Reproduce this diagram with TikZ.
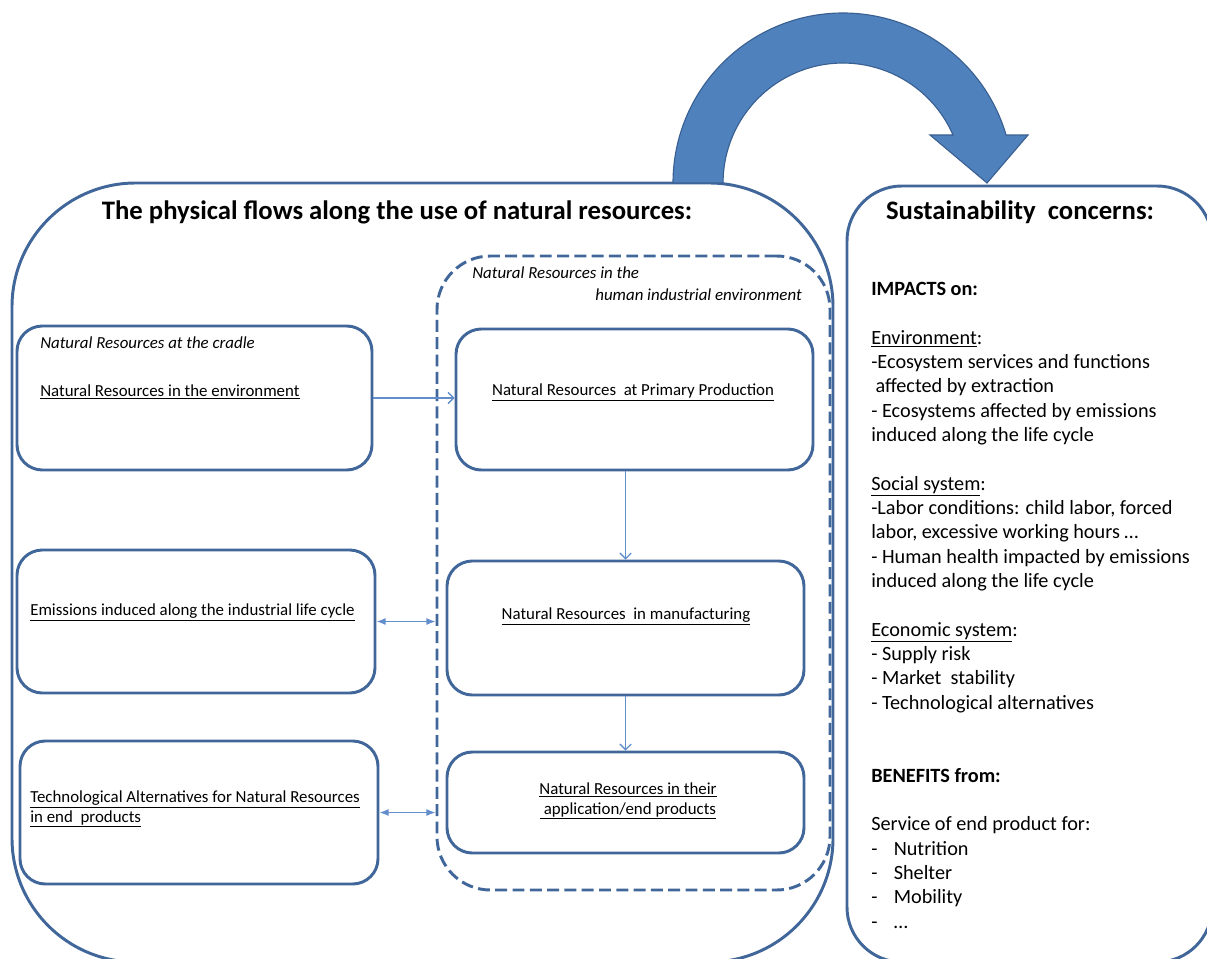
\documentclass[tikz,border=0pt]{standalone}
\usepackage{fontspec}
\setmainfont{Carlito}
\usetikzlibrary{arrows.meta, positioning, fit, calc}
\definecolor{frameBlue}{RGB}{65,103,154}
\definecolor{arrowBlue}{RGB}{79,129,189}
\definecolor{arrowEdge}{RGB}{58,96,146}
\definecolor{linkBlue}{RGB}{98,142,204}
\tikzset{
    x=0.025cm, y=0.025cm,
    % Shapes
    box/.style={rectangle, draw=frameBlue, line width=2.1pt, rounded corners=18pt, inner sep=0pt},
    bigbox/.style={box, rounded corners=88pt},
    sidebox/.style={box, rounded corners=39pt},
    zonebox/.style={box, dashed, dash pattern=on 8.5pt off 3.8pt, rounded corners=38pt},
    % Texts
    title/.style={font=\fontsize{19}{23}\selectfont\bfseries, inner sep=0pt},
    lbl/.style={font=\fontsize{12}{14.2}\selectfont, inner sep=0pt, align=center},
    tag/.style={lbl, font=\fontsize{12}{14.2}\selectfont\itshape},
    notes/.style={font=\fontsize{14.4}{17.3}\selectfont, inner sep=0pt, align=left},
    % Flow
    flow/.style={line width=0.9pt, linkBlue, -{Straight Barb[length=4pt,width=8pt]}},
    link/.style={line width=0.9pt, linkBlue, {Latex[length=6.5pt,width=5pt]}-{Latex[length=6.5pt,width=5pt]}},
    bigArrow/.style={fill=arrowBlue, draw=arrowEdge, line width=0.8pt}
}

\begin{document}
\begin{tikzpicture}

\useasboundingbox (0,0) rectangle (1207,-958);
\clip (0,0) rectangle (1207,-958);

% frames
\node[bigbox, fit={(12,-183) (833,-962)}] (flows) {};
\node[sidebox, fit={(847,-186) (1212,-962)}] (concerns) {};
\node[zonebox, fit={(437,-256) (830,-890)}] (industry) {};

% boxes
\node[box, fit={(17,-326) (372,-470)}] (cradle) {};
\node[box, fit={(456,-329) (813,-470)}] (primary) {};
\node[box, fit={(17,-550) (375,-693)}] (emissions) {};
\node[box, fit={(447,-561) (804,-695)}] (manufact) {};
\node[box, fit={(20,-741) (378,-884)}] (techalt) {};
\node[box, fit={(447,-752) (804,-853)}] (endprod) {};

% curved arrow
\draw[bigArrow] (673,-183) arc[start angle=180, end angle=16.4, radius=170]
    -- (1028,-135) -- (987,-183) -- (930,-135) -- (953,-135)
    arc[start angle=23.6, end angle=180, radius=120] -- cycle;

% texts
\node[title] (flowsTitle) at (397,-212) {The physical flows along the use of natural resources:};
\node[title] (concernsTitle) at (1020,-212) {Sustainability~ concerns:};
\node[tag, anchor=west] (industryTag) at (472,-273) {Natural Resources in the};
\node[tag, anchor=east] (industryTag2) at (802,-295) {human industrial environment};
\node[tag, anchor=west] (cradleTag) at (40,-343) {Natural Resources at the cradle};
\node[lbl, anchor=west] (cradleTxt) at (40,-392) {\underline{Natural Resources in the environment}};
\node[lbl] (primaryTxt) at (633,-392) {\underline{Natural Resources~ at Primary Production}};
\node[lbl, anchor=west] (emissionsTxt) at (30,-612) {\underline{Emissions induced along the industrial life cycle}};
\node[lbl] (manufactTxt) at (626,-616) {\underline{Natural Resources~ in manufacturing}};
\node[lbl, anchor=west, align=left] (techaltTxt) at (30,-809)
    {\underline{Technological Alternatives for Natural Resources}\\\underline{in end~ products}};
\node[lbl] (endprodTxt) at (628,-801)
    {\underline{Natural Resources in their}\\\underline{\ application/end products}};

\node[notes, anchor=north west] (impacts) at (871,-282) {%
    \textbf{IMPACTS on:}\\[17.3pt]
    \underline{Environment}:\\
    -Ecosystem services and functions\\
    \hspace*{3pt}affected by extraction\\
    - Ecosystems affected by emissions\\
    induced along the life cycle\\[17.3pt]
    \underline{Social system}:\\
    -Labor conditions: child labor, forced\\
    labor, excessive working hours …\\
    - Human health impacted by emissions\\
    induced along the life cycle\\[17.3pt]
    \underline{Economic system}:\\
    - Supply risk\\
    - Market~ stability\\
    - Technological alternatives\\[34.6pt]
    \textbf{BENEFITS from:}\\[17.3pt]
    Service of end product for:\\
    \makebox[16pt][l]{-}Nutrition\\
    \makebox[16pt][l]{-}Shelter\\
    \makebox[16pt][l]{-}Mobility\\
    \makebox[16pt][l]{-}…};

% connectors
\draw[flow] (cradle.east) -- (cradle.east -| primary.west);
\draw[flow] (primary.south -| manufact.north) -- (manufact.north);
\draw[flow] (manufact.south) -- (endprod.north);
\draw[link] (emissions.east) -- (emissions.east -| industry.west);
\draw[link] (techalt.east) -- (techalt.east -| industry.west);

\end{tikzpicture}
\end{document}
